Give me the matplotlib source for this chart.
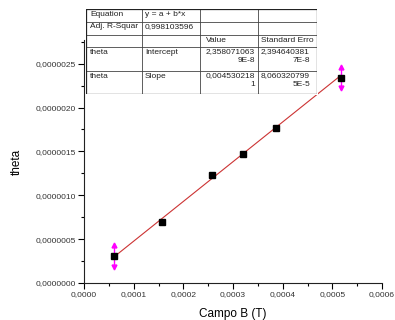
import numpy as np
import matplotlib.pyplot as plt
from matplotlib.ticker import MultipleLocator, FuncFormatter

plt.rcParams['font.family'] = ['Liberation Sans', 'DejaVu Sans']

# data
campo_b = [6.05e-5, 1.575e-4, 2.57e-4, 3.21e-4, 3.86e-4, 5.17e-4]
theta = [3.05e-7, 6.98e-7, 1.233e-6, 1.465e-6, 1.77e-6, 2.34e-6]
theta_err = [1.25e-7, 0, 0, 0, 0, 1.2e-7]

intercept = 2.358071063e-8
slope = 0.004530218

table_rows = [
    ['Equation', 'y = a + b*x', '', ''],
    ['Adj. R-Squar', '0,998103596', '', ''],
    ['', '', 'Value', 'Standard Erro'],
    ['theta', 'Intercept', '2,358071063\n9E-8', '2,394640381\n7E-8'],
    ['theta', 'Slope', '0,004530218\n1', '8,060320799\n5E-5'],
]

fig = plt.figure(figsize=(3.95, 3.2), dpi=100)
ax = fig.add_axes([84 / 395, 1 - 283 / 320, 298 / 395, 243 / 320])

x = np.array(campo_b)
y = np.array(theta)
e = np.array(theta_err)

xf = np.array([x.min(), x.max()])
ax.plot(xf, intercept + slope * xf, color='#cc3333', lw=0.8, zorder=2)

m = e > 0
ax.errorbar(x[m], y[m], yerr=e[m], fmt='none', ecolor='#ff00ff', elinewidth=1.0, zorder=3)
ax.plot(x[m], y[m] + e[m], linestyle='none', marker='^', color='#ff00ff', ms=3.5, zorder=3)
ax.plot(x[m], y[m] - e[m], linestyle='none', marker='v', color='#ff00ff', ms=3.5, zorder=3)
ax.plot(x, y, linestyle='none', marker='s', color='black', ms=4.5, zorder=4)

ax.set_xlim(0, 0.0006)
ax.set_ylim(0, 2.77e-6)
ax.spines['top'].set_visible(False)
ax.spines['right'].set_visible(False)
for s in ['left', 'bottom']:
    ax.spines[s].set_linewidth(0.8)
    ax.spines[s].set_color('#222222')

ax.xaxis.set_major_locator(MultipleLocator(0.0001))
ax.xaxis.set_minor_locator(MultipleLocator(0.00005))
ax.yaxis.set_major_locator(MultipleLocator(5e-7))
ax.yaxis.set_minor_locator(MultipleLocator(2.5e-7))
ax.xaxis.set_major_formatter(FuncFormatter(lambda v, p: f'{v:.4f}'.replace('.', ',')))
ax.yaxis.set_major_formatter(FuncFormatter(lambda v, p: f'{v:.7f}'.replace('.', ',')))
ax.tick_params(which='major', direction='out', length=4, width=0.8, labelsize=6,
               labelcolor='#333333', pad=2)
ax.tick_params(which='minor', direction='out', length=2, width=0.8)

ax.set_xlabel('Campo B (T)', fontsize=8.5, labelpad=7)
ax.set_ylabel('theta', fontsize=8.5, labelpad=9)

# results table drawn on an overlay axes in pixel units
tx = fig.add_axes([86 / 395, 1 - 94 / 320, 231 / 395, 85 / 320])
tx.set_xlim(86, 317)
tx.set_ylim(94, 9)
tx.axis('off')
tx.fill_between([86, 317], 9, 94, color='white', zorder=0)
col_edges = [86, 142, 200, 258, 317]
text_x = [90, 145, 206, 261]
row_edges = [9, 22, 35, 47, 71, 94]
for xe in col_edges[1:-1]:
    tx.plot([xe, xe], [9, 94], color='#444444', lw=0.6)
for ye in row_edges[1:-1]:
    tx.plot([86, 317], [ye, ye], color='#444444', lw=0.6)
tx.plot([86, 317, 317, 86, 86], [9, 9, 94, 94, 9], color='#222222', lw=0.9)

for r, row in enumerate(table_rows):
    for c, txt in enumerate(row):
        if not txt:
            continue
        tx.text(text_x[c], row_edges[r] + 1.5, txt, fontsize=6, ha='left', va='top',
                multialignment='right', linespacing=1.35, color='#222222')

fig.savefig('out.png', dpi=100)
